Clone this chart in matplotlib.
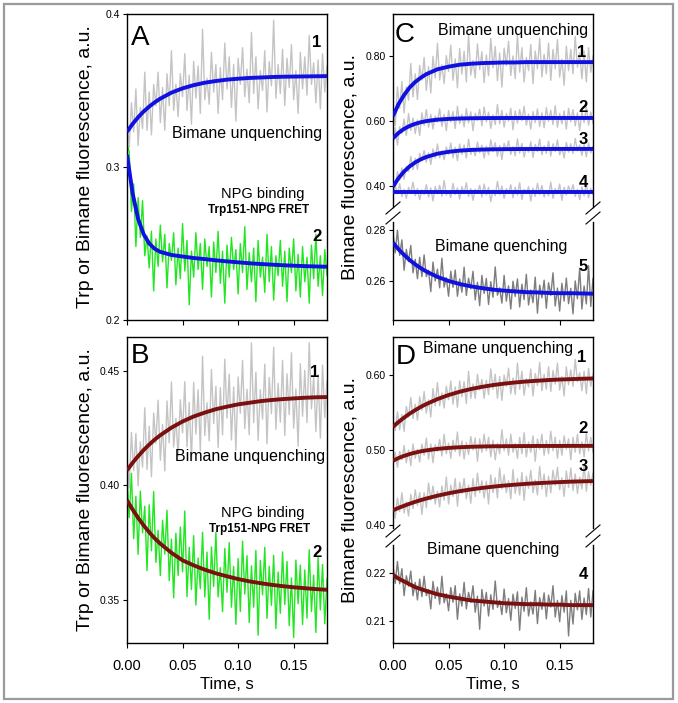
import numpy as np
import matplotlib
matplotlib.use("Agg")
import matplotlib.pyplot as plt
from matplotlib.lines import Line2D
from matplotlib.patches import Rectangle

plt.rcParams["font.family"] = ["Liberation Sans", "DejaVu Sans"]

W, H = 678, 703

TRACE_DT = 0.002
FIT_T = [0, .005, .01, .015, .02, .025, .03, .04, .05, .06, .07, .08,
         .09, .10, .11, .12, .13, .14, .15, .16, .17, .18]

# panel A (units of 1e-3)
A1_GRAY = [331, 313, 342, 323, 351, 314, 339, 325, 362, 324,
           349, 321, 354, 340, 362, 329, 352, 324, 361, 340,
           376, 337, 354, 333, 361, 346, 374, 337, 360, 328,
           369, 345, 366, 335, 390, 344, 358, 341, 375, 349,
           367, 335, 365, 344, 381, 351, 372, 339, 367, 330,
           371, 354, 378, 346, 364, 342, 388, 348, 372, 338,
           363, 350, 376, 336, 369, 353, 396, 345, 367, 348,
           377, 340, 371, 352, 380, 344, 363, 335, 375, 351,
           372, 347, 386, 354, 368, 342, 370, 338, 374, 349,
           366]
A2_GREEN = [315, 310, 271, 289, 248, 280, 254, 278, 242, 255,
            234, 258, 219, 253, 235, 262, 238, 256, 221, 250,
            239, 257, 223, 247, 227, 263, 232, 252, 210, 245,
            228, 257, 233, 250, 220, 253, 235, 248, 215, 251,
            231, 258, 224, 245, 211, 249, 228, 254, 233, 246,
            217, 250, 231, 261, 220, 244, 225, 247, 212, 252,
            228, 241, 218, 256, 225, 248, 213, 242, 229, 252,
            222, 245, 212, 247, 231, 253, 219, 243, 215, 248,
            225, 241, 211, 249, 227, 256, 222, 242, 216, 246,
            229]
A1_FIT = [0.3230, 0.3281, 0.3325, 0.3363, 0.3395, 0.3423, 0.3447, 0.3486,
          0.3514, 0.3535, 0.3551, 0.3562, 0.3571, 0.3577, 0.3582, 0.3585,
          0.3588, 0.3590, 0.3591, 0.3592, 0.3593, 0.3594]
A2_FIT = [0.308, 0.283, 0.266, 0.256, 0.250, 0.2465, 0.2445, 0.2425,
          0.2415, 0.2405, 0.2398, 0.2390, 0.2383, 0.2377, 0.2371, 0.2366,
          0.2362, 0.2358, 0.2355, 0.2352, 0.2350, 0.2348]

# panel B (units of 1e-4)
B1_GRAY = [4126, 3989, 4232, 4065, 4227, 3998, 4190, 4080, 4340, 4070,
           4259, 4038, 4317, 4185, 4373, 4110, 4267, 4064, 4370, 4187,
           4453, 4168, 4294, 4129, 4375, 4230, 4454, 4169, 4363, 4108,
           4452, 4225, 4419, 4152, 4566, 4219, 4362, 4195, 4508, 4271,
           4434, 4166, 4428, 4221, 4553, 4295, 4487, 4199, 4431, 4153,
           4475, 4316, 4548, 4249, 4421, 4222, 4624, 4275, 4496, 4198,
           4419, 4290, 4531, 4182, 4473, 4314, 4605, 4246, 4447, 4277,
           4548, 4219, 4489, 4310, 4581, 4251, 4422, 4172, 4533, 4303,
           4504, 4275, 4625, 4335, 4476, 4236, 4486, 4207, 4527, 4297,
           4457]
B2_GREEN = [4035, 3859, 4053, 3767, 3953, 3698, 3975, 3792, 3909, 3627,
            3915, 3714, 3973, 3663, 3804, 3605, 3847, 3699, 3891, 3583,
            3765, 3508, 3791, 3605, 3818, 3622, 3888, 3513, 3729, 3544,
            3780, 3476, 3682, 3548, 3795, 3511, 3708, 3414, 3731, 3558,
            3795, 3512, 3640, 3447, 3724, 3532, 3750, 3467, 3645, 3392,
            3680, 3448, 3756, 3524, 3692, 3400, 3648, 3467, 3715, 3344,
            3672, 3521, 3729, 3418, 3646, 3475, 3694, 3373, 3621, 3440,
            3709, 3478, 3667, 3386, 3595, 3334, 3673, 3482, 3651, 3391,
            3630, 3419, 3718, 3448, 3607, 3356, 3685, 3455, 3654, 3394,
            3593]
B1_FIT = [0.4066, 0.4099, 0.4128, 0.4155, 0.4179, 0.4201, 0.4220, 0.4253,
          0.4280, 0.4302, 0.4319, 0.4334, 0.4345, 0.4355, 0.4362, 0.4369,
          0.4374, 0.4378, 0.4381, 0.4384, 0.4386, 0.4387]
B2_FIT = [0.3935, 0.3895, 0.3858, 0.3825, 0.3795, 0.3768, 0.3745, 0.3705,
          0.3672, 0.3650, 0.3631, 0.3615, 0.3602, 0.3590, 0.3580, 0.3572,
          0.3565, 0.3559, 0.3554, 0.3550, 0.3546, 0.3543]

# panel C, unquenching traces 1-4 (1e-3), quenching trace 5 (1e-4)
C1_GRAY = [645, 585, 705, 639, 721, 625, 705, 664, 777, 674,
           745, 666, 771, 726, 795, 694, 767, 686, 799, 732,
           839, 726, 773, 715, 801, 752, 833, 725, 791, 702,
           823, 744, 814, 720, 865, 741, 786, 732, 837, 758,
           813, 718, 803, 739, 854, 764, 829, 724, 809, 704,
           824, 770, 845, 740, 800, 730, 865, 750, 825, 720,
           795, 755, 835, 715, 815, 760, 855, 735, 805, 745,
           840, 725, 820, 760, 850, 735, 790, 710, 830, 755,
           820, 745, 860, 765, 810, 730, 815, 720, 825, 750,
           800]
C2_GRAY = [527, 579, 526, 582, 562, 606, 555, 623, 571, 609,
           561, 603, 555, 625, 586, 635, 581, 620, 575, 615,
           596, 637, 583, 620, 570, 632, 597, 629, 577, 645,
           592, 620, 582, 638, 594, 628, 570, 624, 602, 636,
           585, 643, 597, 627, 577, 619, 589, 651, 591, 633,
           581, 623, 599, 639, 573, 631, 593, 635, 601, 645,
           587, 621, 575, 629, 595, 637, 583, 625, 579, 641,
           599, 633, 589, 647, 581, 623, 591, 631, 575, 639,
           597, 635, 585, 625, 571, 629, 595, 643, 587, 627,
           593]
C3_GRAY = [413, 389, 444, 419, 455, 421, 460, 444, 491, 450,
           485, 451, 500, 478, 509, 473, 502, 466, 514, 486,
           529, 486, 508, 481, 520, 497, 532, 487, 519, 478,
           529, 497, 526, 486, 544, 497, 517, 493, 535, 502,
           526, 486, 522, 496, 542, 506, 533, 491, 525, 481,
           531, 509, 539, 497, 521, 493, 545, 501, 531, 489,
           519, 504, 536, 488, 528, 506, 544, 496, 524, 500,
           538, 492, 530, 506, 542, 496, 518, 486, 534, 504,
           530, 500, 546, 508, 526, 494, 528, 490, 532, 502,
           522]
C4_GRAY = [372, 400, 376, 407, 367, 390, 362, 396, 378, 412,
           370, 392, 358, 388, 374, 404, 366, 394, 354, 398,
           376, 402, 368, 417, 372, 386, 364, 408, 374, 394,
           360, 398, 376, 410, 368, 392, 356, 390, 378, 402,
           366, 406, 372, 396, 352, 388, 370, 414, 374, 400,
           362, 392, 378, 404, 364, 396, 372, 410, 358, 390,
           376, 398, 354, 394, 368, 408, 374, 402, 366, 386,
           370, 412, 362, 392, 376, 406, 356, 396, 372, 400,
           378, 404, 368, 390, 358, 398, 370, 408, 364, 392,
           374]
C5_DARK = [2790, 2710, 2799, 2700, 2761, 2642, 2724, 2676, 2739, 2632,
           2685, 2609, 2693, 2617, 2702, 2617, 2642, 2558, 2674, 2600,
           2646, 2573, 2689, 2576, 2613, 2540, 2638, 2575, 2643, 2540,
           2608, 2556, 2654, 2543, 2611, 2569, 2638, 2526, 2595, 2503,
           2622, 2551, 2610, 2508, 2597, 2536, 2655, 2544, 2573, 2513,
           2622, 2521, 2581, 2490, 2599, 2539, 2608, 2498, 2587, 2527,
           2626, 2506, 2565, 2515, 2615, 2474, 2584, 2534, 2603, 2493,
           2593, 2543, 2632, 2502, 2572, 2482, 2591, 2521, 2611, 2511,
           2571, 2471, 2600, 2530, 2650, 2490, 2580, 2510, 2660, 2500,
           2610]
C1_FIT = [0.615, 0.652, 0.680, 0.703, 0.720, 0.733, 0.744, 0.759, 0.767,
          0.773, 0.776, 0.778, 0.779, 0.780, 0.780, 0.781, 0.781, 0.781,
          0.781, 0.781, 0.781, 0.781]
C2_FIT = [0.5467, 0.5635, 0.5758, 0.5847, 0.5913, 0.5961, 0.5996, 0.6041,
          0.6064, 0.6077, 0.6084, 0.6088, 0.6090, 0.6091, 0.6092, 0.6092,
          0.6092, 0.6092, 0.6092, 0.6092, 0.6092, 0.6092]
C3_FIT = [0.398, 0.4243, 0.4447, 0.4604, 0.4726, 0.4820, 0.4893, 0.4993,
          0.5052, 0.5088, 0.5109, 0.5121, 0.5129, 0.5133, 0.5136, 0.5138,
          0.5139, 0.5139, 0.5140, 0.5140, 0.5140, 0.5140]
C4_FIT = [0.3825, 0.3825, 0.3825, 0.3825, 0.3825, 0.3825, 0.3825, 0.3825,
          0.3825, 0.3825, 0.3825, 0.3825, 0.3825, 0.3825, 0.3825, 0.3825,
          0.3825, 0.3825, 0.3825, 0.3825, 0.3825, 0.3825]
C5_FIT = [0.2750, 0.2724, 0.2702, 0.2682, 0.2665, 0.2650, 0.2637, 0.2616,
          0.2600, 0.2588, 0.2579, 0.2572, 0.2566, 0.2562, 0.2559, 0.2556,
          0.2555, 0.2553, 0.2552, 0.2552, 0.2551, 0.2550]

# panel D, unquenching traces 1-3 (1e-3), quenching trace 4 (1e-4)
D1_GRAY = [541, 526, 551, 527, 547, 525, 558, 544, 570, 542,
           561, 540, 571, 553, 578, 549, 567, 544, 582, 559,
           590, 559, 576, 556, 585, 567, 592, 561, 584, 557,
           592, 571, 591, 562, 605, 569, 588, 569, 601, 580,
           594, 569, 593, 574, 608, 581, 601, 569, 598, 566,
           600, 585, 609, 575, 596, 574, 616, 581, 605, 573,
           595, 584, 608, 572, 602, 586, 617, 579, 601, 581,
           611, 578, 606, 588, 616, 580, 598, 572, 611, 587,
           607, 585, 621, 591, 603, 579, 605, 575, 609, 585,
           601]
D2_GRAY = [480, 497, 477, 498, 487, 506, 483, 500, 479, 508,
           489, 501, 484, 508, 493, 516, 488, 508, 483, 507,
           498, 514, 492, 521, 495, 509, 489, 513, 498, 524,
           492, 512, 488, 510, 494, 518, 500, 516, 485, 515,
           497, 521, 499, 517, 491, 513, 487, 509, 495, 527,
           499, 515, 493, 521, 497, 509, 489, 517, 495, 523,
           491, 511, 497, 519, 485, 515, 501, 521, 493, 513,
           495, 525, 499, 517, 489, 513, 493, 519, 501, 515,
           487, 517, 497, 521, 495, 511, 491, 523, 499, 517,
           497]
D3_GRAY = [428, 409, 436, 418, 443, 416, 431, 412, 441, 422,
           447, 426, 443, 414, 443, 423, 456, 433, 452, 428,
           445, 424, 452, 433, 464, 428, 453, 438, 462, 425,
           457, 442, 462, 435, 453, 429, 462, 438, 469, 443,
           459, 436, 458, 428, 467, 443, 463, 436, 476, 448,
           467, 443, 459, 435, 474, 442, 462, 440, 470, 433,
           465, 449, 473, 443, 460, 440, 478, 448, 468, 438,
           465, 443, 473, 453, 477, 447, 463, 438, 472, 450,
           476, 446, 468, 442, 464, 448, 481, 445, 471, 453,
           469]
D4_DARK = [2217, 2179, 2225, 2178, 2210, 2153, 2195, 2173, 2205, 2153,
           2181, 2144, 2188, 2151, 2194, 2153, 2166, 2125, 2183, 2147,
           2171, 2135, 2194, 2138, 2157, 2121, 2170, 2139, 2174, 2103,
           2157, 2131, 2181, 2125, 2160, 2139, 2174, 2118, 2152, 2082,
           2166, 2131, 2160, 2110, 2155, 2124, 2184, 2128, 2143, 2113,
           2167, 2117, 2147, 2101, 2156, 2126, 2161, 2080, 2150, 2120,
           2170, 2110, 2140, 2114, 2164, 2094, 2149, 2124, 2159, 2104,
           2154, 2129, 2174, 2108, 2143, 2098, 2153, 2118, 2163, 2068,
           2143, 2093, 2158, 2123, 2163, 2103, 2148, 2113, 2168, 2108,
           2163]
D1_FIT = [0.531, 0.5374, 0.5432, 0.5485, 0.5532, 0.5575, 0.5613, 0.5679,
          0.5733, 0.5777, 0.5813, 0.5842, 0.5866, 0.5885, 0.5901, 0.5914,
          0.5924, 0.5933, 0.5940, 0.5945, 0.5950, 0.5954]
D2_FIT = [0.4857, 0.4893, 0.4922, 0.4946, 0.4966, 0.4982, 0.4995, 0.5015,
          0.5028, 0.5037, 0.5043, 0.5047, 0.5050, 0.5051, 0.5052, 0.5053,
          0.5054, 0.5054, 0.5054, 0.5055, 0.5055, 0.5055]
D3_FIT = [0.4196, 0.4228, 0.4257, 0.4284, 0.4309, 0.4332, 0.4353, 0.4391,
          0.4423, 0.4451, 0.4474, 0.4494, 0.4511, 0.4526, 0.4538, 0.4549,
          0.4558, 0.4565, 0.4572, 0.4578, 0.4582, 0.4586]
D4_FIT = [0.2197, 0.2189, 0.2183, 0.2177, 0.2171, 0.2167, 0.2163, 0.2156,
          0.2151, 0.2147, 0.2143, 0.2141, 0.2139, 0.2137, 0.2136, 0.2135,
          0.2135, 0.2134, 0.2134, 0.2133, 0.2133, 0.2133]

X_TICKS = [0.0, 0.05, 0.10, 0.15]
X_TICKLABELS = ["0.00", "0.05", "0.10", "0.15"]

GRAY = "#c4c4c4"
GREEN = "#22e622"
DARK = "#7d7d7d"
BLUE = "#1010e0"
RED = "#7a1010"


def px_axes(fig, x0, y0, x1, y1):
    return fig.add_axes([x0 / W, 1 - y1 / H, (x1 - x0) / W, (y1 - y0) / H])


def ftext(fig, x, y, s, **kw):
    fig.text(x / W, 1 - y / H, s, **kw)


def trace(ax, vals, scale, color):
    v = np.asarray(vals) * scale
    t = np.arange(len(v)) * TRACE_DT
    ax.plot(t, v, color=color, lw=1.0, zorder=2)


def fit(ax, vals, color):
    ax.plot(FIT_T, vals, color=color, lw=2.8, zorder=4,
            solid_capstyle="butt")


def style(ax, ylim, yticks, ylabels, xticks="none", hide=()):
    ax.set_xlim(0, 0.18)
    ax.set_ylim(*ylim)
    ax.set_yticks(yticks)
    ax.set_yticklabels(ylabels)
    ax.tick_params(axis="y", direction="out", length=3, width=0.8,
                   labelsize=7.5, pad=2, right=False)
    ax.tick_params(axis="x", direction="out", length=3.5, width=0.8,
                   labelsize=10.5, pad=8, top=False)
    if xticks == "none":
        ax.set_xticks([])
    else:
        ax.set_xticks(X_TICKS)
        if xticks == "labels":
            ax.set_xticklabels(X_TICKLABELS)
            ax.set_xlabel("Time, s", fontsize=12, labelpad=3)
        else:
            ax.set_xticklabels([])
    for s in ax.spines.values():
        s.set_linewidth(1.0)
    for s in hide:
        ax.spines[s].set_visible(False)


def break_marks(fig, y_up, y_dn):
    for x in (393, 593):
        for cy in (y_up, y_dn):
            fig.add_artist(Line2D([(x - 7) / W, (x + 7) / W],
                                  [1 - (cy + 6) / H, 1 - (cy - 6) / H],
                                  transform=fig.transFigure, color="black",
                                  lw=0.8))


fig = plt.figure(figsize=(W / 100, H / 100), dpi=100)
fig.add_artist(Rectangle((4 / W, 1 - 699 / H), 669 / W, 695 / H,
                         transform=fig.transFigure, fill=False,
                         ec="#9a9a9a", lw=1.6))

num = dict(fontsize=12, fontweight="bold", ha="center", va="baseline")
lbl = dict(fontsize=11.5, ha="center", va="baseline")
big = dict(fontsize=20, ha="left", va="baseline")

# ----- A -----
ax = px_axes(fig, 127, 14, 327, 320)
trace(ax, A1_GRAY, 1e-3, GRAY)
trace(ax, A2_GREEN, 1e-3, GREEN)
fit(ax, A1_FIT, BLUE)
fit(ax, A2_FIT, BLUE)
style(ax, (0.2, 0.4), [0.2, 0.3, 0.4], ["0.2", "0.3", "0.4"], xticks="ticks")
ftext(fig, 131, 45, "A", **big)
ftext(fig, 317, 47, "1", **num)
ftext(fig, 247, 138, "Bimane unquenching", **lbl)
ftext(fig, 263, 198, "NPG binding", fontsize=10.5, ha="center", va="baseline")
ftext(fig, 259, 213, "Trp151-NPG FRET", fontsize=8.5, fontweight="bold",
      ha="center", va="baseline")
ftext(fig, 317, 241, "2", **num)

# ----- B -----
ax = px_axes(fig, 127, 337, 327, 643)
trace(ax, B1_GRAY, 1e-4, GRAY)
trace(ax, B2_GREEN, 1e-4, GREEN)
fit(ax, B1_FIT, RED)
fit(ax, B2_FIT, RED)
style(ax, (0.331, 0.465), [0.35, 0.40, 0.45], ["0.35", "0.40", "0.45"],
      xticks="labels")
ftext(fig, 131, 363, "B", **big)
ftext(fig, 315, 377, "1", **num)
ftext(fig, 250, 461, "Bimane unquenching", **lbl)
ftext(fig, 263, 517, "NPG binding", fontsize=10.5, ha="center", va="baseline")
ftext(fig, 260, 532, "Trp151-NPG FRET", fontsize=8.5, fontweight="bold",
      ha="center", va="baseline")
ftext(fig, 317, 557, "2", **num)

ylab = dict(fontsize=14, rotation=90, ha="center", va="center")
ftext(fig, 86, 167, "Trp or Bimane fluorescence, a.u.", **ylab)
ftext(fig, 86, 490, "Trp or Bimane fluorescence, a.u.", **ylab)

# ----- C -----
axu = px_axes(fig, 393, 14, 593, 207)
for vals in (C1_GRAY, C2_GRAY, C3_GRAY, C4_GRAY):
    trace(axu, vals, 1e-3, GRAY)
for vals in (C1_FIT, C2_FIT, C3_FIT, C4_FIT):
    fit(axu, vals, BLUE)
style(axu, (0.3354, 0.929), [0.40, 0.60, 0.80], ["0.40", "0.60", "0.80"],
      hide=("bottom",))
axl = px_axes(fig, 393, 222, 593, 320)
trace(axl, C5_DARK, 1e-4, DARK)
fit(axl, C5_FIT, BLUE)
style(axl, (0.2447, 0.2831), [0.26, 0.28], ["0.26", "0.28"], xticks="ticks",
      hide=("top",))
break_marks(fig, 208, 218)
ftext(fig, 395, 42, "C", **big)
ftext(fig, 513, 35, "Bimane unquenching", **lbl)
ftext(fig, 582, 57, "1", **num)
ftext(fig, 583, 112, "2", **num)
ftext(fig, 583, 144, "3", **num)
ftext(fig, 583, 187, "4", **num)
ftext(fig, 501, 251, "Bimane quenching", **lbl)
ftext(fig, 583, 271, "5", **num)
ftext(fig, 350, 167, "Bimane fluorescence, a.u.", **ylab)

# ----- D -----
axu = px_axes(fig, 393, 337, 593, 528)
for vals in (D1_GRAY, D2_GRAY, D3_GRAY):
    trace(axu, vals, 1e-3, GRAY)
for vals in (D1_FIT, D2_FIT, D3_FIT):
    fit(axu, vals, RED)
style(axu, (0.396, 0.6507), [0.40, 0.50, 0.60], ["0.40", "0.50", "0.60"],
      hide=("bottom",))
axl = px_axes(fig, 393, 545, 593, 643)
trace(axl, D4_DARK, 1e-4, DARK)
fit(axl, D4_FIT, RED)
style(axl, (0.2053, 0.226), [0.21, 0.22], ["0.21", "0.22"], xticks="labels",
      hide=("top",))
break_marks(fig, 531, 541)
ftext(fig, 396, 364, "D", **big)
ftext(fig, 498, 353, "Bimane unquenching", **lbl)
ftext(fig, 582, 362, "1", **num)
ftext(fig, 583, 433, "2", **num)
ftext(fig, 583, 471, "3", **num)
ftext(fig, 493, 554, "Bimane quenching", **lbl)
ftext(fig, 583, 579, "4", **num)
ftext(fig, 350, 490, "Bimane fluorescence, a.u.", **ylab)

fig.savefig("out.png", dpi=100)
